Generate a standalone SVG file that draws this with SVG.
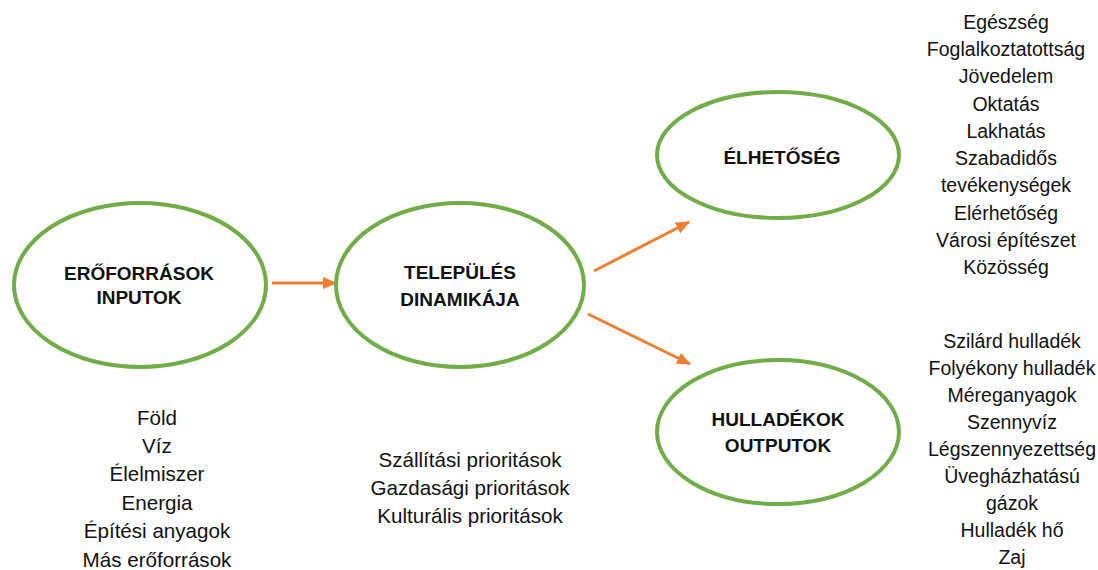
<svg xmlns="http://www.w3.org/2000/svg" width="1098" height="570" viewBox="0 0 1098 570">
<style>
.node{fill:#fff;stroke:#70AD47;stroke-width:4}
.lbl{font-family:"Liberation Sans",Arial,sans-serif;font-weight:bold;font-size:19px;fill:#111;text-anchor:middle}
.lst{font-family:"Liberation Sans",Arial,sans-serif;font-size:20.6px;fill:#111;text-anchor:middle}
.rl{font-size:19.5px}
.conn{stroke:#ED7D31;stroke-width:3;fill:none}
</style>
<defs>
<marker id="ah" markerUnits="userSpaceOnUse" markerWidth="14" markerHeight="12" refX="13" refY="6" orient="auto">
<path d="M0,0 L14,6 L0,12 Z" fill="#ED7D31"/>
</marker>
</defs>
<rect width="1098" height="570" fill="#fff"/>
<g id="connectors">
<line class="conn" x1="272" y1="283" x2="336" y2="283" marker-end="url(#ah)"/>
<line class="conn" x1="594" y1="271" x2="689" y2="222" marker-end="url(#ah)"/>
<line class="conn" x1="588" y1="314" x2="690" y2="364" marker-end="url(#ah)"/>
</g>
<g id="eroforrasok">
<ellipse class="node" cx="140" cy="285" rx="126" ry="82"/>
<text class="lbl" x="139" y="280">ERŐFORRÁSOK</text>
<text class="lbl" x="139" y="304">INPUTOK</text>
</g>
<g id="telepules">
<ellipse class="node" cx="460" cy="285" rx="124" ry="82"/>
<text class="lbl" x="460" y="279">TELEPÜLÉS</text>
<text class="lbl" x="460" y="306">DINAMIKÁJA</text>
</g>
<g id="elhetoseg">
<ellipse class="node" cx="778" cy="155" rx="121" ry="63"/>
<text class="lbl" x="782" y="164">ÉLHETŐSÉG</text>
</g>
<g id="hulladekok">
<ellipse class="node" cx="778" cy="432" rx="121" ry="72"/>
<text class="lbl" x="778" y="426">HULLADÉKOK</text>
<text class="lbl" x="778" y="452">OUTPUTOK</text>
</g>
<g id="inputs-list" class="lst">
<text x="157" y="425">Föld</text>
<text x="157" y="453">Víz</text>
<text x="157" y="481">Élelmiszer</text>
<text x="157" y="510">Energia</text>
<text x="157" y="538">Építési anyagok</text>
<text x="157" y="567">Más erőforrások</text>
</g>
<g id="priorities-list" class="lst">
<text x="470" y="467">Szállítási prioritások</text>
<text x="470" y="495">Gazdasági prioritások</text>
<text x="470" y="523">Kulturális prioritások</text>
</g>
<g id="livability-list" class="lst rl">
<text x="1006" y="29">Egészség</text>
<text x="1006" y="56">Foglalkoztatottság</text>
<text x="1006" y="83">Jövedelem</text>
<text x="1006" y="111">Oktatás</text>
<text x="1006" y="138">Lakhatás</text>
<text x="1006" y="165">Szabadidős</text>
<text x="1006" y="192">tevékenységek</text>
<text x="1006" y="220">Elérhetőség</text>
<text x="1006" y="247">Városi építészet</text>
<text x="1006" y="274">Közösség</text>
</g>
<g id="waste-list" class="lst rl">
<text x="1012" y="348">Szilárd hulladék</text>
<text x="1012" y="375">Folyékony hulladék</text>
<text x="1012" y="402">Méreganyagok</text>
<text x="1012" y="429">Szennyvíz</text>
<text x="1012" y="456">Légszennyezettség</text>
<text x="1012" y="483">Üvegházhatású</text>
<text x="1012" y="510">gázok</text>
<text x="1012" y="537">Hulladék hő</text>
<text x="1012" y="564">Zaj</text>
</g>
</svg>
